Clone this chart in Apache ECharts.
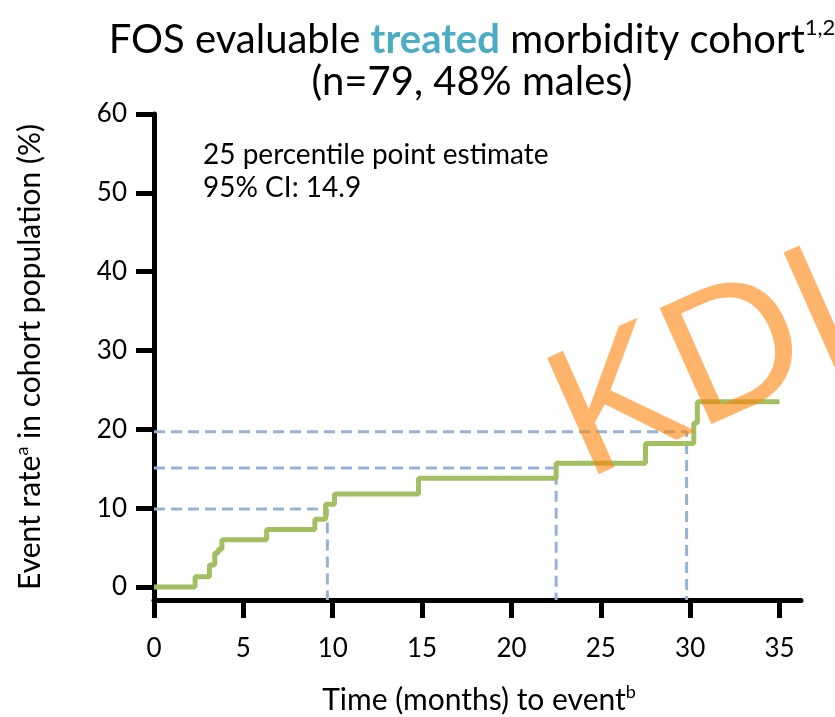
<!DOCTYPE html>
<html>
<head>
<meta charset="utf-8">
<script src="https://cdn.jsdelivr.net/npm/echarts@6/dist/echarts.min.js"></script>
<style>html,body{margin:0;padding:0;background:#fff}#c{width:835px;height:717px}</style>
</head>
<body>
<div id="c"></div>
<script>
// Kaplan-Meier style cumulative event curve (time in months, rate in %)
var kmTime = [0, 2.3, 3.1, 3.4, 3.6, 3.8, 6.3, 9.0, 9.6, 10.1, 14.8, 22.5, 27.5, 30.2, 30.4, 35.0];
var kmRate = [0, 1.3, 2.8, 4.3, 4.8, 6.0, 7.3, 8.6, 10.5, 11.8, 13.8, 15.7, 18.2, 20.8, 23.5, 23.5];
// percentile guide lines (rate level, time where reached)
var guideRate = [9.9, 15.1, 19.7];
var guideTime = [9.7, 22.5, 29.8];
var xTicks = [0, 5, 10, 15, 20, 25, 30, 35];
var yTicks = [0, 10, 20, 30, 40, 50, 60];
var yMin = -1.65, yMax = 60, xMin = 0, xMax = 36.2;

var FONT = 'Lato, "Noto Sans", sans-serif';
var chart = echarts.init(document.getElementById('c'), null, {renderer: 'canvas'});

var kmData = kmTime.map(function (t, i) { return [t, kmRate[i]]; });
var guideSeries = guideRate.map(function (r, i) {
  return {
    type: 'line', silent: true, symbol: 'none', z: 1, animation: false,
    data: [[xMin, r], [guideTime[i], r], [guideTime[i], yMin]],
    lineStyle: {color: '#95B3D7', width: 3, type: [11, 6]}
  };
});

chart.setOption({
  animation: false,
  grid: {left: 154, right: 34, top: 114, bottom: 117, containLabel: false, outerBoundsMode: 'none'},
  xAxis: {
    type: 'value', min: xMin, max: xMax,
    axisLine: {show: true, onZero: false, lineStyle: {color: '#000', width: 5}},
    axisTick: {show: true, inside: false, length: 18, lineStyle: {color: '#000', width: 5}, customValues: xTicks},
    axisLabel: {customValues: xTicks, color: '#000', fontFamily: FONT, fontSize: 26, margin: 36},
    splitLine: {show: false}
  },
  yAxis: {
    type: 'value', min: yMin, max: yMax,
    axisLine: {show: true, onZero: false, lineStyle: {color: '#000', width: 5}},
    axisTick: {show: true, inside: false, length: 18, lineStyle: {color: '#000', width: 5}, customValues: yTicks},
    axisLabel: {customValues: yTicks, color: '#000', fontFamily: FONT, fontSize: 26, margin: 27},
    splitLine: {show: false}
  },
  series: guideSeries.concat([{
    type: 'line', step: 'end', symbol: 'none', z: 3, data: kmData,
    lineStyle: {color: '#A2C062', width: 5}
  }]),
  graphic: [
    {type: 'text', x: 472, y: 40, z: 10, style: {
      text: '{a|FOS evaluable }{b|treated}{a| morbidity cohort}{s|1,2}',
      align: 'center', verticalAlign: 'middle',
      rich: {
        a: {fontFamily: FONT, fontSize: 40, fill: '#000', lineHeight: 46},
        b: {fontFamily: FONT, fontSize: 40, fontWeight: 'bold', fill: '#4BACC6', lineHeight: 46},
        s: {fontFamily: FONT, fontSize: 22, fill: '#000', lineHeight: 24, verticalAlign: 'top'}
      }
    }},
    {type: 'text', x: 472, y: 82, z: 10, style: {
      text: '(n=79, 48% males)', align: 'center', verticalAlign: 'middle',
      font: '40px ' + FONT, fill: '#000'
    }},
    {type: 'text', x: 203, y: 155, z: 10, style: {
      text: '25 percentile point estimate', align: 'left', verticalAlign: 'middle',
      font: '28px ' + FONT, fill: '#000'
    }},
    {type: 'text', x: 203, y: 188, z: 10, style: {
      text: '95% CI: 14.9', align: 'left', verticalAlign: 'middle',
      font: '28px ' + FONT, fill: '#000'
    }},
    {type: 'text', x: 479, y: 700, z: 10, style: {
      text: '{a|Time (months) to event}{s|b}', align: 'center', verticalAlign: 'middle',
      rich: {
        a: {fontFamily: FONT, fontSize: 30, fill: '#000', lineHeight: 34},
        s: {fontFamily: FONT, fontSize: 18, fill: '#000', lineHeight: 16, verticalAlign: 'top'}
      }
    }},
    {type: 'text', x: 30, y: 357, rotation: Math.PI / 2, z: 10, style: {
      text: '{a|Event rate}{s|a}{a| in cohort population (%)}', align: 'center', verticalAlign: 'middle',
      rich: {
        a: {fontFamily: FONT, fontSize: 30, fill: '#000', lineHeight: 34},
        s: {fontFamily: FONT, fontSize: 18, fill: '#000', lineHeight: 16, verticalAlign: 'top'}
      }
    }},
    {type: 'text', x: 705, y: 371, rotation: 24 * Math.PI / 180, z: 20, style: {
      text: 'KDI', align: 'center', verticalAlign: 'middle',
      font: '185px "Liberation Sans", Arial, sans-serif', fill: 'rgba(255,130,10,0.6)'
    }}
  ]
});
</script>
</body>
</html>
